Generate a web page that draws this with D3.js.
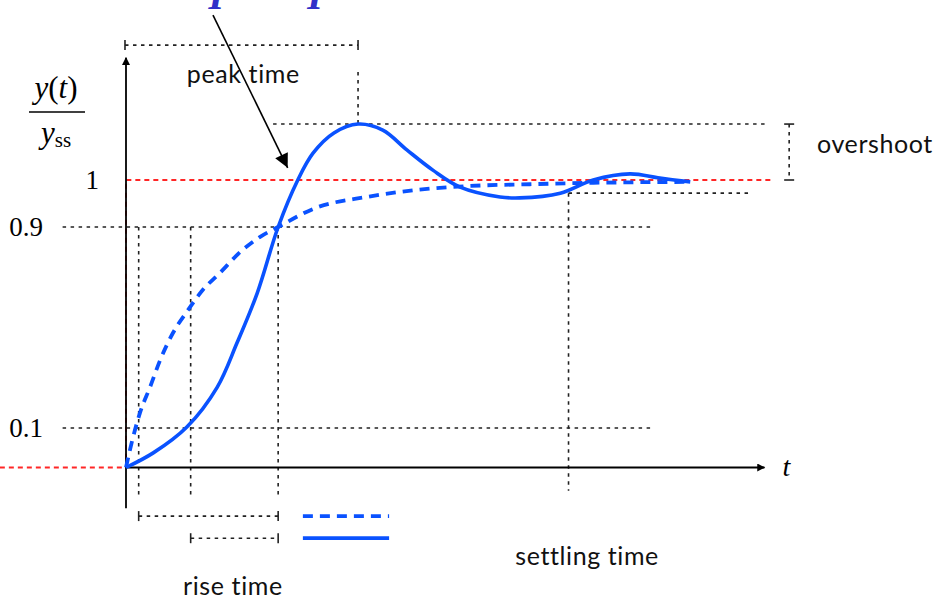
<!DOCTYPE html>
<html>
<head>
<meta charset="utf-8">
<script src="https://cdn.jsdelivr.net/npm/d3@7"></script>
<style>
body { margin: 0; background: #fff; }
svg { display: block; }
text { font-variant-ligatures: none; }
</style>
</head>
<body>
<script>
// step response, second order (solid) and first order (dashed)
var solidT = [0, 0.43, 0.96, 1.44, 1.75, 2.07, 2.40, 2.71, 2.95, 3.28, 3.66, 4.05, 4.43, 4.84, 5.27, 5.90, 6.21, 6.85, 7.37, 7.95, 8.42, 8.90];
var solidY = [0, 0.037, 0.104, 0.263, 0.438, 0.637, 0.90, 1.000, 1.057, 1.100, 1.119, 1.106, 1.064, 1.021, 0.985, 0.964, 0.962, 0.972, 1.000, 1.013, 1.004, 0.996];
var dashT = [0, 0.09, 0.22, 0.38, 0.54, 0.74, 0.98, 1.21, 1.48, 1.80, 2.11, 2.40, 2.98, 3.80, 4.59, 5.38, 6.37, 7.37, 8.90];
var dashY = [0, 0.063, 0.160, 0.263, 0.371, 0.478, 0.570, 0.649, 0.717, 0.800, 0.860, 0.90, 0.940, 0.964, 0.979, 0.987, 0.991, 0.994, 0.996];

// key levels and times
var levelValues = [1, 0.9, 0.1];
var levelLabels = ["1", "0.9", "0.1"];
var peakValue = 1.119;
var settleValue = 0.972;
var riseStart = [0.20, 1.02]; // dashed, solid
var riseEnd = 2.40;
var peakTime = 3.66;
var settleTime = 6.98;

var W = 936, H = 600;
var svg = d3.select("body").append("svg").attr("width", W).attr("height", H);

// drawing is schematic : the y axis is stretched differently around 0.1 / 0.9
var x = d3.scaleLinear().domain([0, 10]).range([126, 760]);
var y = d3.scaleLinear().domain([0, 0.1, 0.9, 1]).range([467.5, 428, 227, 180]);

var defs = svg.append("defs");
defs.append("marker").attr("id", "ah").attr("viewBox", "0 0 10 10")
	.attr("refX", 9).attr("refY", 5).attr("markerWidth", 10).attr("markerHeight", 8)
	.attr("markerUnits", "userSpaceOnUse").attr("orient", "auto")
	.append("path").attr("d", "M0,0 L10,5 L0,10 Z").attr("fill", "#000");
defs.append("marker").attr("id", "bigah").attr("viewBox", "0 0 10 10")
	.attr("refX", 10).attr("refY", 5).attr("markerWidth", 17).attr("markerHeight", 14)
	.attr("markerUnits", "userSpaceOnUse").attr("orient", "auto")
	.append("path").attr("d", "M0,0 L10,5 L0,10 Z").attr("fill", "#000");

function seg(x1, y1, x2, y2, cls) {
	return svg.append("line").attr("x1", x1).attr("y1", y1).attr("x2", x2).attr("y2", y2).attr("class", cls);
}

var dotted = {stroke: "#222", "stroke-width": 1.6, "stroke-dasharray": "3.5,4.5"};
function dot(x1, y1, x2, y2) {
	var l = seg(x1, y1, x2, y2, "dot");
	for (var k in dotted) l.attr(k, dotted[k]);
	return l;
}

// horizontal guides at 0.9 and 0.1
[0.9, 0.1].forEach(function(v) { dot(x(-1.0), y(v), x(8.3), y(v)); });
// peak and settling guides
dot(x(2.32), y(peakValue), x(10.11), y(peakValue));
dot(x(settleTime), y(settleValue), x(9.84), y(settleValue));
// verticals for rise time
riseStart.concat([riseEnd]).forEach(function(t) { dot(x(t), y(0.9), x(t), y(-0.072)); });
dot(x(settleTime), y(settleValue), x(settleTime), y(-0.059));
dot(x(peakTime), y(1.23), x(peakTime), y(peakValue));

// brackets
function bracketH(t0, t1, v) {
	dot(x(t0), y(v), x(t1), y(v));
	[t0, t1].forEach(function(t) {
		seg(x(t), y(v) - 5, x(t), y(v) + 5).attr("stroke", "#222").attr("stroke-width", 1.6);
	});
}
bracketH(-0.016, peakTime, 1.287);
bracketH(riseStart[0], riseEnd, -0.123);
bracketH(riseStart[1], riseEnd, -0.179);

var oX = x(10.46);
dot(oX, y(peakValue), oX, y(1));
[peakValue, 1].forEach(function(v) {
	seg(oX - 5, y(v), oX + 5, y(v)).attr("stroke", "#222").attr("stroke-width", 1.6);
});

// reference step (red)
svg.append("path")
	.attr("d", d3.line()([[x(-1.99), y(0)], [x(0), y(0)], [x(0), y(1)], [x(10.2), y(1)]]))
	.attr("fill", "none").attr("stroke", "#ff2626").attr("stroke-width", 1.8)
	.attr("stroke-dasharray", "5,4");

// axes
seg(x(0), y(0), x(10.07), y(0)).attr("stroke", "#000").attr("stroke-width", 1.8).attr("marker-end", "url(#ah)");
seg(x(0), y(-0.103), x(0), y(1.26)).attr("stroke", "#000").attr("stroke-width", 1.8).attr("marker-end", "url(#ah)");

// curves
var px = function(d) { return x(d[0]); }, py = function(d) { return y(d[1]); };
var blue = "#0a52ff";

svg.append("path").datum(d3.zip(dashT, dashY))
	.attr("d", d3.line().x(px).y(py).curve(d3.curveMonotoneX))
	.attr("fill", "none").attr("stroke", blue).attr("stroke-width", 3.8)
	.attr("stroke-dasharray", "10,7");
svg.append("path").datum(d3.zip(solidT, solidY))
	.attr("d", d3.line().x(px).y(py).curve(d3.curveCatmullRom.alpha(0.5)))
	.attr("fill", "none").attr("stroke", blue).attr("stroke-width", 3.6)
	.attr("stroke-linejoin", "round");

// legend keys next to rise-time brackets
seg(x(2.79), y(-0.123), x(4.15), y(-0.123)).attr("stroke", blue).attr("stroke-width", 3.8).attr("stroke-dasharray", "10,7");
seg(x(2.79), y(-0.179), x(4.15), y(-0.179)).attr("stroke", blue).attr("stroke-width", 3.8);

// annotation arrow
seg(x(1.372), y(1.351), x(2.55), y(1.026)).attr("stroke", "#000").attr("stroke-width", 1.6).attr("marker-end", "url(#bigah)");

// cut-off blue symbols at the top
svg.selectAll(".sym").data([1.30, 2.86]).enter().append("text").attr("class", "sym")
	.attr("x", function(d) { return x(d); }).attr("y", 9)
	.attr("font-family", "Liberation Serif").attr("font-style", "italic").attr("font-weight", "bold")
	.attr("font-size", 40).attr("fill", "#3030c8").text("I");

// tick labels (serif, like LaTeX)
var serif = "Liberation Serif";
svg.selectAll(".lvl").data(levelValues).enter().append("text").attr("class", "lvl")
	.attr("x", function(d) { return d === 1 ? 99 : 43; })
	.attr("y", function(d) { return y(d) + 9; })
	.attr("text-anchor", "end").attr("font-family", serif).attr("font-size", 27)
	.text(function(d, i) { return levelLabels[i]; });

// y label : y(t) / y_ss
var yl = svg.append("text").attr("x", 56).attr("y", 98).attr("text-anchor", "middle")
	.attr("font-family", serif).attr("font-size", 31);
yl.append("tspan").attr("font-style", "italic").text("y");
yl.append("tspan").text("(");
yl.append("tspan").attr("font-style", "italic").text("t");
yl.append("tspan").text(")");
seg(29, 112, 85, 112).attr("stroke", "#000").attr("stroke-width", 1.5);
var yb = svg.append("text").attr("x", 56).attr("y", 143).attr("text-anchor", "middle")
	.attr("font-family", serif).attr("font-size", 31);
yb.append("tspan").attr("font-style", "italic").text("y");
yb.append("tspan").attr("font-size", 21).attr("dy", 4).text("ss");

svg.append("text").attr("x", x(10.07) + 18).attr("y", y(0) + 8)
	.attr("font-family", serif).attr("font-style", "italic").attr("font-size", 28).text("t");

// annotation text
var sans = "Lato";
var notes = [
	{text: "peak time", t: 0.96, v: 1.206},
	{text: "overshoot", t: 10.90, v: 1.0585},
	{text: "settling time", t: 6.14, v: -0.248},
	{text: "rise time", t: 0.90, v: -0.323}
];
svg.selectAll(".note").data(notes).enter().append("text").attr("class", "note")
	.attr("x", function(d) { return x(d.t); }).attr("y", function(d) { return y(d.v); })
	.attr("font-family", sans).attr("font-size", 25).attr("letter-spacing", 0.6).attr("fill", "#111")
	.text(function(d) { return d.text; });
</script>
</body>
</html>
